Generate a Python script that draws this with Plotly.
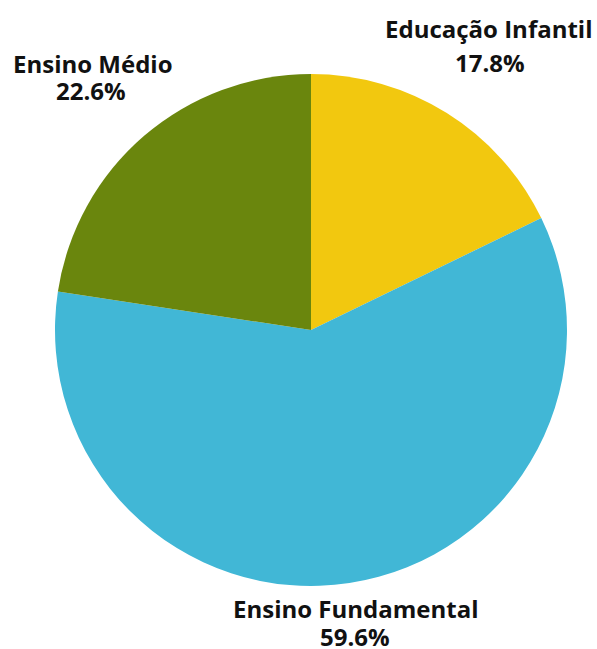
import plotly.graph_objects as go

labels = ["Educação Infantil", "Ensino Fundamental", "Ensino Médio"]
values = [17.8, 59.6, 22.6]
colors = ["#F2C80F", "#41B7D6", "#6A860D"]
pct_labels = ["17.8%", "59.6%", "22.6%"]

W, H = 597, 649
L, R, T, B = 55, 30, 74, 63
PW, PH = W - L - R, H - T - B

def px(x, y):
    return (x - L) / PW, 1 - (y - T) / PH

# label text centre positions (pixels)
name_pos = [(489, 28), (356, 608), (93, 63)]
pct_pos = [(490, 62), (355, 636), (91, 90)]

fig = go.Figure(go.Pie(
    labels=labels, values=values, sort=False, direction="clockwise",
    rotation=0, marker=dict(colors=colors, line=dict(width=0)),
    textinfo="none", hoverinfo="label+percent", showlegend=False,
))

font = dict(family="Open Sans", size=24, color="#111111")
anns = []
for name, pct, npos, ppos in zip(labels, pct_labels, name_pos, pct_pos):
    for txt, pos in ((name, npos), (pct, ppos)):
        x, y = px(*pos)
        anns.append(dict(text="<b>%s</b>" % txt, x=x, y=y, xref="paper", yref="paper",
                         xanchor="center", yanchor="middle", showarrow=False, font=font))

fig.update_layout(
    width=W, height=H, margin=dict(l=L, r=R, t=T, b=B),
    paper_bgcolor="white", plot_bgcolor="white", annotations=anns,
)
fig.write_html("out.html")
